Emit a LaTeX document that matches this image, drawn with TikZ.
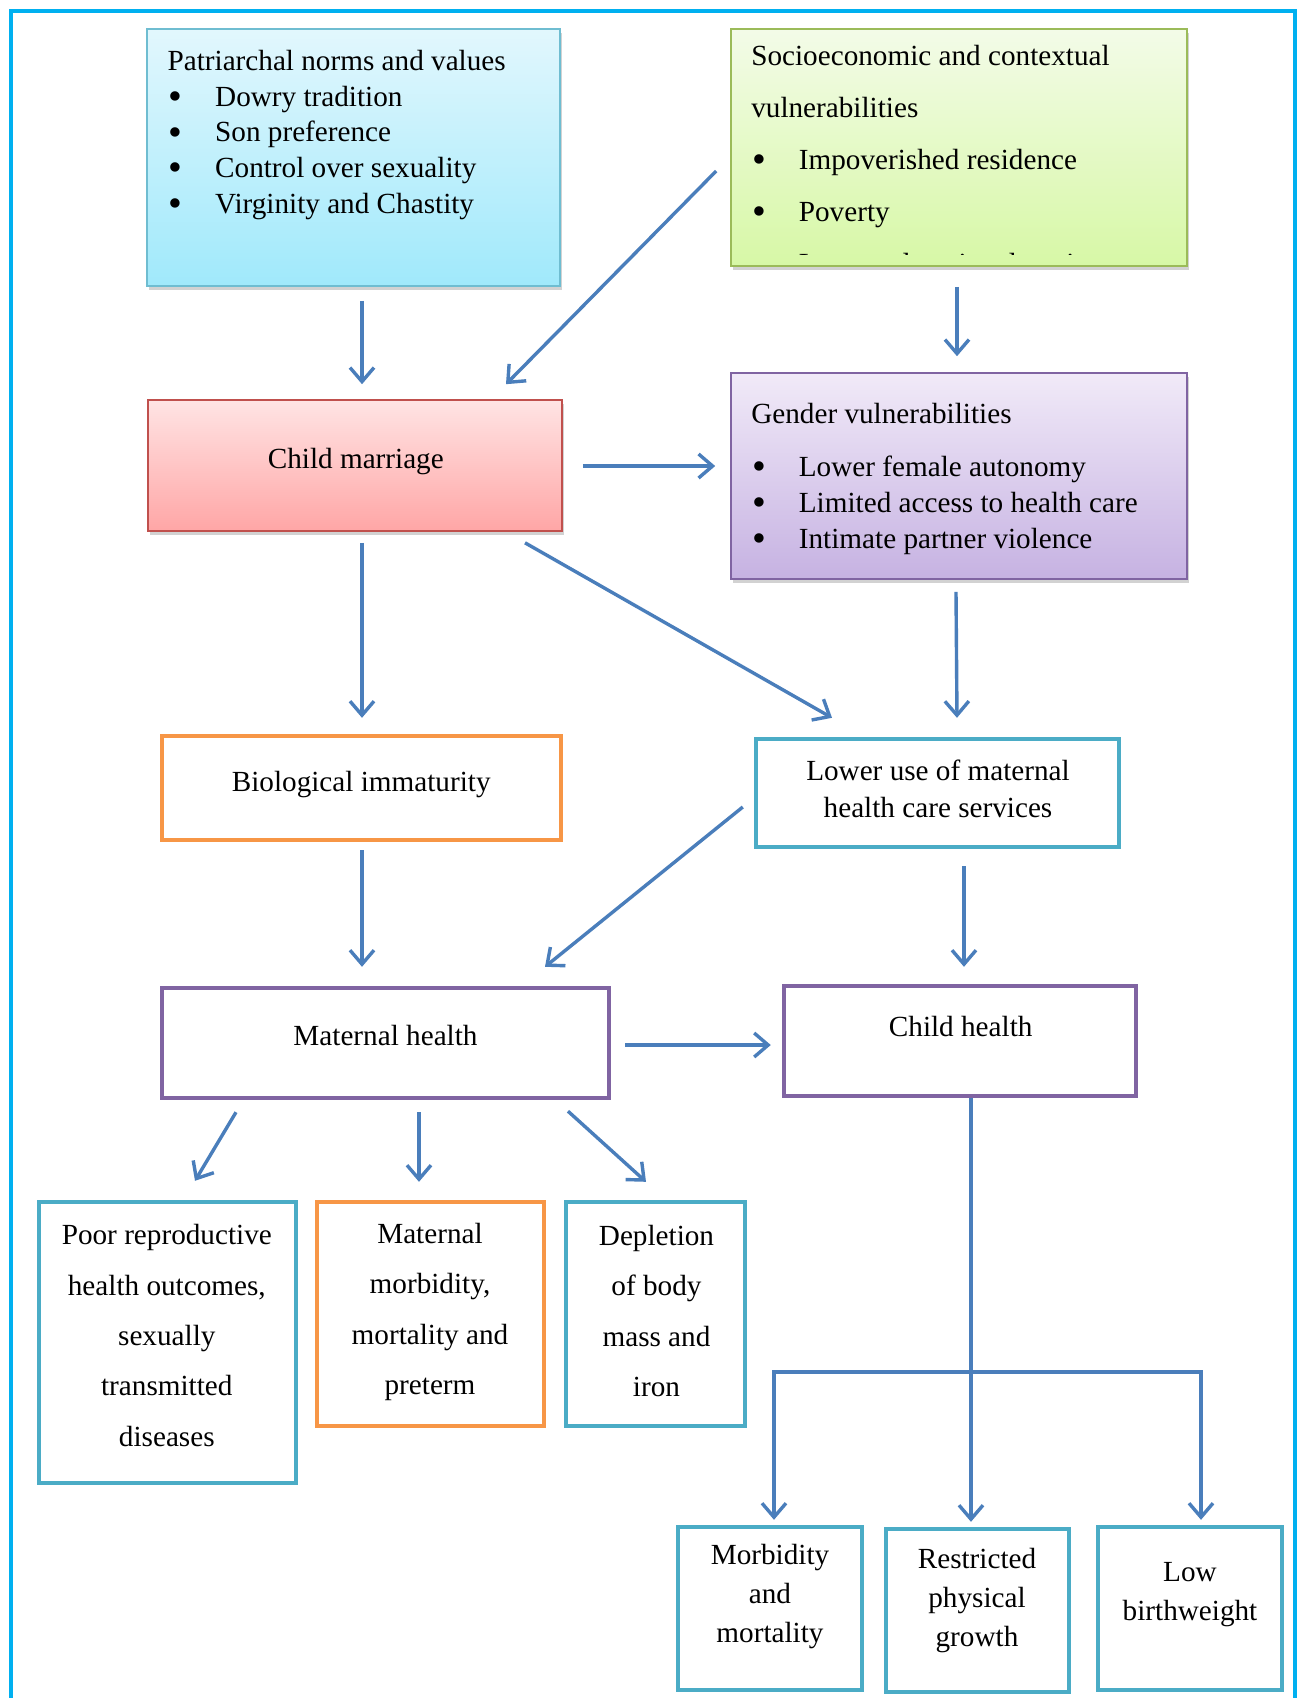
\documentclass[tikz,border=0pt]{standalone}
\usepackage{fontspec}
\setmainfont{Liberation Serif}
\usetikzlibrary{arrows.meta,shadows,calc}
\definecolor{framecol}{HTML}{00B0F0}
\definecolor{arrowcol}{HTML}{4A7EBB}
\definecolor{tealcol}{HTML}{4BACC6}
\definecolor{orangecol}{HTML}{F79646}
\definecolor{purplecol}{HTML}{8064A2}
\definecolor{redcol}{HTML}{C0504D}
\definecolor{greencol}{HTML}{9BBB59}
\newcommand{\bulitem}{\makebox[23.8pt][l]{\hspace{0.6pt}\raisebox{-0.11em}{\scalebox{1.35}{\textbullet}}}}
\begin{document}
\begin{tikzpicture}[x=0.5pt,y=-0.5pt,
  fancy/.style={rectangle, inner sep=0, line width=0.8pt,
    drop shadow={shadow xshift=1.2pt, shadow yshift=-1.8pt, opacity=0.35}},
  plainbox/.style={rectangle, inner sep=0, line width=2.2pt, fill=white},
  txt/.style={inner sep=0, font=\fontsize{14.6}{17.85}\selectfont},
  arr/.style={draw=arrowcol, line width=1.7pt, -{Straight Barb[length=7pt,width=12pt]}},
  frame/.style={draw=framecol, line width=2.4pt}]
\useasboundingbox (0,0) rectangle (1304,1698);
\fill[white] (0,0) rectangle (1304,1698);
\draw[frame] (11,1700) -- (11,11) -- (1295,11) -- (1295,1700);

% top boxes
\node[fancy, draw=tealcol!80, top color={rgb,255:red,226;green,247;blue,253}, bottom color={rgb,255:red,160;green,233;blue,251},
  minimum width=206.5pt, minimum height=128.5pt] (pat) at (353.5,157.5) {};
\node[fancy, draw=greencol, top color={rgb,255:red,243;green,251;blue,232}, bottom color={rgb,255:red,215;green,248;blue,166},
  minimum width=228pt, minimum height=118.5pt] (soc) at (959,147.5) {};
\node[fancy, draw=redcol, top color={rgb,255:red,255;green,228;blue,228}, bottom color={rgb,255:red,255;green,166;blue,166},
  minimum width=207pt, minimum height=65.5pt] (cm) at (355,465.5) {};
\node[fancy, draw=purplecol, top color={rgb,255:red,241;green,234;blue,248}, bottom color={rgb,255:red,198;green,178;blue,226},
  minimum width=228pt, minimum height=103pt] (gen) at (959,476) {};

% plain boxes
\node[plainbox, draw=orangecol, minimum width=199.5pt, minimum height=52pt] (bio) at (361.5,788) {};
\node[plainbox, draw=tealcol, minimum width=181.5pt, minimum height=54pt] (lu) at (937.5,793) {};
\node[plainbox, draw=purplecol, minimum width=223.5pt, minimum height=55pt] (mh) at (385.5,1043) {};
\node[plainbox, draw=purplecol, minimum width=176pt, minimum height=55pt] (ch) at (960,1041) {};
\node[plainbox, draw=tealcol, minimum width=128.5pt, minimum height=140.5pt] (poor) at (167.5,1342.5) {};
\node[plainbox, draw=orangecol, minimum width=113.5pt, minimum height=112pt] (mm) at (430.5,1314) {};
\node[plainbox, draw=tealcol, minimum width=89.5pt, minimum height=112pt] (dep) at (655.5,1314) {};
\node[plainbox, draw=tealcol, minimum width=92pt, minimum height=81.5pt] (mor) at (770,1608.5) {};
\node[plainbox, draw=tealcol, minimum width=91.5pt, minimum height=81.5pt] (res) at (977.5,1610.5) {};
\node[plainbox, draw=tealcol, minimum width=92pt, minimum height=81.5pt] (lbw) at (1190,1608.5) {};

% texts
\node[txt, anchor=north west, align=left] (pattxt) at ([shift={(21,21.7)}]pat.north west)
  {Patriarchal norms and values\\ \bulitem Dowry tradition\\ \bulitem Son preference\\ \bulitem Control over sexuality\\ \bulitem Virginity and Chastity};
\begin{scope}
\clip (soc.north west) rectangle ([shift={(0,-12)}]soc.south east);
\node[txt, anchor=north west, align=left, font=\fontsize{14.6}{26}\selectfont] (soctxt) at ([shift={(20.7,16.3)}]soc.north west)
  {Socioeconomic and contextual\\ vulnerabilities\\ \bulitem Impoverished residence\\ \bulitem Poverty\\ \bulitem Lower educational attainment};
\end{scope}
\node[txt] (cmtxt) at ([shift={(0.8,-3.5)}]cm.center) {Child marriage};
\node[txt, anchor=north west, align=left] (gentxt) at ([shift={(20.7,30.8)}]gen.north west)
  {Gender vulnerabilities\\[8.65pt] \bulitem Lower female autonomy\\ \bulitem Limited access to health care\\ \bulitem Intimate partner violence};
\node[txt] (biotxt) at ([shift={(-0.3,-3)}]bio.center) {Biological immaturity};
\node[txt, align=center, font=\fontsize{14.6}{18.4}\selectfont] (lutxt) at ([shift={(0.5,-4.5)}]lu.center) {Lower use of maternal\\health care services};
\node[txt] (mhtxt) at ([shift={(0,-7.5)}]mh.center) {Maternal health};
\node[txt] (chtxt) at ([shift={(0.7,-14.2)}]ch.center) {Child health};
\node[txt, align=center, font=\fontsize{14.6}{25.2}\selectfont] (poortxt) at ([shift={(-0.7,-7)}]poor.center)
  {Poor reproductive\\health outcomes,\\sexually\\transmitted\\diseases};
\node[txt, align=center, font=\fontsize{14.6}{25.2}\selectfont] (mmtxt) at ([shift={(-0.5,-2)}]mm.center)
  {Maternal\\morbidity,\\mortality and\\preterm};
\node[txt, align=center, font=\fontsize{14.6}{25.2}\selectfont] (deptxt) at ([shift={(1,-3)}]dep.center)
  {Depletion\\of body\\mass and\\iron};
\node[txt, align=center, font=\fontsize{14.6}{19.5}\selectfont] (mortxt) at ([shift={(0,-12)}]mor.center)
  {Morbidity\\and\\mortality};
\node[txt, align=center, font=\fontsize{14.6}{19.5}\selectfont] (restxt) at ([shift={(-0.5,-10.5)}]res.center)
  {Restricted\\physical\\growth};
\node[txt, align=center, font=\fontsize{14.6}{19.5}\selectfont] (lbwtxt) at ([shift={(0,-13.5)}]lbw.center)
  {Low\\birthweight};

% connectors
\draw[arr] ([shift={(8.5,14)}]pat.south) -- ([shift={(7,-15)}]cm.north);
\draw[arr] ([shift={(-14,23.5)}]soc.west) -- ([shift={(151,-15)}]cm.north);
\draw[arr] ([shift={(-2,20)}]soc.south) -- ([shift={(-2,-16)}]gen.north);
\draw[arr] ([shift={(20,0.5)}]cm.east) -- ([shift={(-15,-10)}]gen.west);
\draw[arr] ([shift={(7,11)}]cm.south) -- ([shift={(0.5,-16)}]bio.north);
\draw[arr] ([shift={(170,11)}]cm.south) -- ([shift={(-105.5,-19)}]lu.north);
\draw[arr] ([shift={(-3,12)}]gen.south) -- ([shift={(19.5,-19)}]lu.north);
\draw[arr] ([shift={(0.5,8)}]bio.south) -- ([shift={(-23.5,-19)}]mh.north);
\draw[arr] ([shift={(-11,14)}]lu.west) -- ([shift={(159.5,-19)}]mh.north);
\draw[arr] ([shift={(26.5,17)}]lu.south) -- ([shift={(4,-17)}]ch.north);
\draw[arr] ([shift={(14,2)}]mh.east) -- ([shift={(-11,4)}]ch.west);
\draw[arr] ([shift={(-149.5,12)}]mh.south) -- ([shift={(27.5,-19)}]poor.north);
\draw[arr] ([shift={(33.5,12)}]mh.south) -- ([shift={(-11.5,-18)}]mm.north);
\draw[arr] ([shift={(182.5,11)}]mh.south) -- ([shift={(-9.5,-18)}]dep.north);
\draw[arr] ([shift={(11,0)}]ch.south) -- ([shift={(-6.5,-5)}]res.north);
\draw[arr, {Straight Barb[length=7pt,width=12pt]}-{Straight Barb[length=7pt,width=12pt]}]
  ([shift={(4,-5)}]mor.north) |- ([shift={(11,-153)}]lbw.north) -- ([shift={(11,-5)}]lbw.north);
\end{tikzpicture}
\end{document}
